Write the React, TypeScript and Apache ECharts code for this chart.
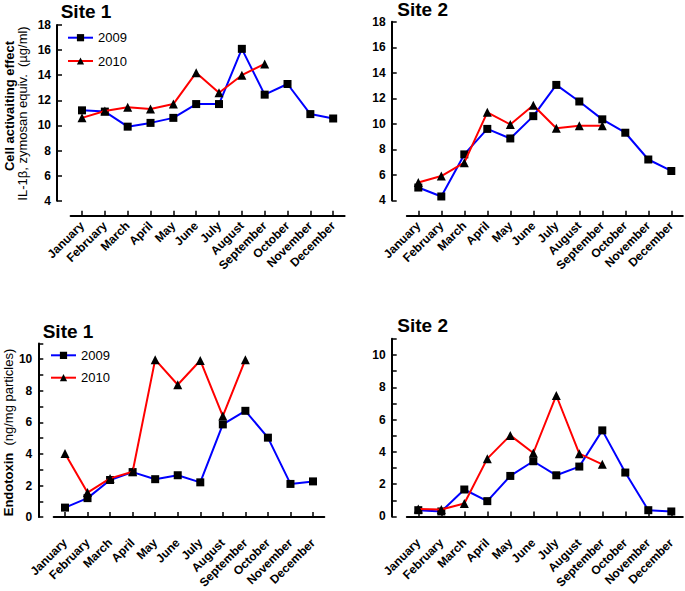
import React, { useEffect, useRef } from "react";
import * as echarts from "echarts";

const months = [
  "January", "February", "March", "April", "May", "June",
  "July", "August", "September", "October", "November", "December",
];
const seriesNames = ["2009", "2010"];

// Cell activating effect (IL-1β, zymosan equiv. µg/ml)
const cellSite1_2009 = [11.2, 11.1, 9.9, 10.2, 10.6, 11.7, 11.7, 16.1, 12.45, 13.3, 10.9, 10.55];
const cellSite1_2010 = [10.6, 11.15, 11.45, 11.3, 11.7, 14.2, 12.6, 14.0, 14.9];
const cellSite2_2009 = [5.0, 4.3, 7.6, 9.6, 8.85, 10.6, 13.05, 11.75, 10.35, 9.3, 7.2, 6.3];
const cellSite2_2010 = [5.4, 5.9, 6.95, 10.9, 9.95, 11.45, 9.65, 9.85, 9.85];

// Endotoxin (ng/mg particles)
const endoSite1_2009 = [0.6, 1.2, 2.35, 2.85, 2.4, 2.65, 2.2, 5.87, 6.73, 5.03, 2.1, 2.26];
const endoSite1_2010 = [4.03, 1.55, 2.45, 2.87, 9.97, 8.38, 9.92, 6.4, 9.97];
const endoSite2_2009 = [0.39, 0.31, 1.67, 0.95, 2.51, 3.42, 2.55, 3.09, 5.33, 2.72, 0.39, 0.31];
const endoSite2_2010 = [0.47, 0.43, 0.8, 3.58, 5.02, 3.93, 7.49, 3.89, 3.23];

const FONT = "'Liberation Sans', Arial, Helvetica, sans-serif";
const BLUE = "#0000ff";
const RED = "#ff0000";

const panels = [
  { left: 70.6, top: 25, width: 274, height: 175.7, yOff: 13.6, xOff: 15, min: 4, max: 18, interval: 2, d09: cellSite1_2009, d10: cellSite1_2010 },
  { left: 406.8, top: 21.8, width: 276, height: 178.5, yOff: 15.1, xOff: 15.4, min: 4, max: 18, interval: 2, d09: cellSite2_2009, d10: cellSite2_2010 },
  { left: 53.7, top: 343.4, width: 270.6, height: 174.9, yOff: 15.4, xOff: 15.7, min: 0, max: 11, interval: 1, d09: endoSite1_2009, d10: endoSite1_2010 },
  { left: 406.8, top: 338.8, width: 276, height: 178.2, yOff: 15.1, xOff: 16.3, min: 0, max: 11, interval: 1, d09: endoSite2_2009, d10: endoSite2_2010 },
];

export default function App() {
  const ref = useRef<HTMLDivElement>(null);

  useEffect(() => {
    if (!ref.current) return;
    const chart = echarts.init(ref.current, undefined, { renderer: "svg" });

    const grid = panels.map((p) => ({ left: p.left, top: p.top, width: p.width, height: p.height }));
    const xAxis = panels.map((p, i) => ({
      type: "category",
      gridIndex: i,
      data: months,
      boundaryGap: true,
      offset: p.xOff,
      axisLine: { show: true, lineStyle: { color: "#000", width: 2 } },
      axisTick: { show: true, inside: true, alignWithLabel: true, length: 5, lineStyle: { color: "#000", width: 1.5 } },
      axisLabel: { interval: 0, rotate: 45, fontSize: 12, fontWeight: "bold", color: "#000", fontFamily: FONT, margin: 8 },
      splitLine: { show: false },
    }));
    const yAxis = panels.map((p, i) => ({
      type: "value",
      gridIndex: i,
      min: p.min,
      max: p.max,
      interval: p.interval,
      offset: p.yOff,
      axisLine: { show: true, lineStyle: { color: "#000", width: 2 } },
      axisTick: { show: true, inside: true, length: 5, lineStyle: { color: "#000", width: 1.5 } },
      axisLabel: {
        fontSize: 12,
        fontWeight: "bold",
        color: "#000",
        fontFamily: FONT,
        margin: 6,
        formatter: (v: number) => (v % 2 === 0 && !(p.max === 11 && v > 10) ? String(v) : ""),
      },
      splitLine: { show: false },
    }));

    const series: any[] = [];
    panels.forEach((p, i) => {
      series.push({
        type: "line",
        name: seriesNames[0],
        xAxisIndex: i,
        yAxisIndex: i,
        data: p.d09,
        symbol: "rect",
        symbolSize: 8,
        itemStyle: { color: "#000" },
        lineStyle: { color: BLUE, width: 2 },
        z: 2,
      });
      series.push({
        type: "line",
        name: seriesNames[1],
        xAxisIndex: i,
        yAxisIndex: i,
        data: p.d10,
        symbol: "triangle",
        symbolSize: 9,
        itemStyle: { color: "#000" },
        lineStyle: { color: RED, width: 2 },
        z: 3,
      });
    });

    const legendCommon = {
      data: seriesNames,
      orient: "vertical",
      padding: 0,
      itemWidth: 25,
      itemHeight: 9,
      selectedMode: false,
      textStyle: { fontSize: 13, color: "#000", fontFamily: FONT },
    };

    const titleText = (text: string, x: number, y: number) => ({
      type: "text",
      x,
      y,
      style: { text, font: `bold 19px ${FONT}`, fill: "#000", textAlign: "left", textVerticalAlign: "middle" },
    });

    const option: any = {
      animation: false,
      backgroundColor: "#fff",
      grid,
      xAxis,
      yAxis,
      series,
      legend: [
        { ...legendCommon, left: 67, top: 31.2, itemGap: 10.3 },
        { ...legendCommon, left: 50, top: 348.8, itemGap: 9.4 },
      ],
      graphic: [
        titleText("Site 1", 60.7, 11.5),
        titleText("Site 2", 397.3, 9),
        titleText("Site 1", 42.7, 331),
        titleText("Site 2", 397.3, 325),
        {
          type: "text",
          x: 9,
          y: 106,
          rotation: Math.PI / 2,
          style: { text: "Cell activaiting effect", font: `bold 13px ${FONT}`, fill: "#000", textAlign: "center", textVerticalAlign: "middle" },
        },
        {
          type: "text",
          x: 22,
          y: 113.5,
          rotation: Math.PI / 2,
          style: { text: "IL-1β, zymosan equiv.  (µg/ml)", font: `13px ${FONT}`, fill: "#000", textAlign: "center", textVerticalAlign: "middle" },
        },
        {
          type: "text",
          x: 8.5,
          y: 432.5,
          rotation: Math.PI / 2,
          style: {
            text: "{b|Endotoxin}  (ng/mg particles)",
            font: `13px ${FONT}`,
            fill: "#000",
            textAlign: "center",
            textVerticalAlign: "middle",
            rich: { b: { fontWeight: "bold", fontSize: 13, fontFamily: FONT, fill: "#000" } },
          },
        },
      ],
    };

    chart.setOption(option);
    return () => chart.dispose();
  }, []);

  return <div ref={ref} style={{ position: "absolute", left: 0, top: 0, width: 685, height: 591 }} />;
}
